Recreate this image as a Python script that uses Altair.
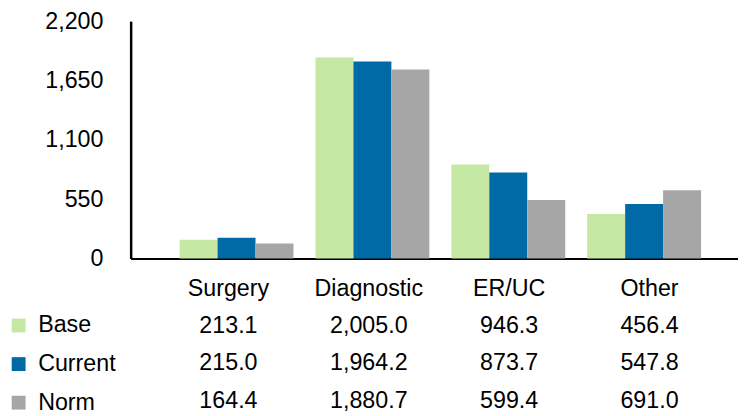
import altair as alt
import pandas as pd

categories = ["Surgery", "Diagnostic", "ER/UC", "Other"]
series = ["Base", "Current", "Norm"]
colors = ["#C5E8A5", "#006AA6", "#A6A6A6"]

# bar heights as drawn in the picture
bar_base = [174, 1862, 872, 413]
bar_current = [193, 1826, 798, 505]
bar_norm = [138, 1752, 541, 633]

# values printed in the table under the chart
table_base = [213.1, 2005.0, 946.3, 456.4]
table_current = [215.0, 1964.2, 873.7, 547.8]
table_norm = [164.4, 1880.7, 599.4, 691.0]

y_ticks = [0, 550, 1100, 1650, 2200]

FONT = "Liberation Sans"
FS = 23.5

bar_rows = []
for s, vals in zip(series, [bar_base, bar_current, bar_norm]):
    for c, v in zip(categories, vals):
        bar_rows.append({"category": c, "series": s, "value": v})
bars_df = pd.DataFrame(bar_rows)

tab_rows = [{"category": c, "row": "header", "text": c} for c in categories]
for s, vals in zip(series, [table_base, table_current, table_norm]):
    for c, v in zip(categories, vals):
        tab_rows.append({"category": c, "row": s, "text": f"{v:,.1f}"})
table_df = pd.DataFrame(tab_rows)

bars = alt.Chart(bars_df).mark_bar().encode(
    x=alt.X("category:N", sort=categories,
            scale=alt.Scale(paddingInner=0.1618, paddingOuter=0.316, align=0.57),
            axis=alt.Axis(labels=False, ticks=False, title=None, domainColor="black",
                          domainWidth=2, grid=False)),
    xOffset=alt.XOffset("series:N", sort=series,
                        scale=alt.Scale(paddingInner=0, paddingOuter=0)),
    y=alt.Y("value:Q", scale=alt.Scale(domain=[0, 2200], nice=False),
            axis=alt.Axis(values=y_ticks, format=",.0f", grid=False, ticks=False,
                          labelPadding=28, domainColor="black", domainWidth=2.5,
                          title=None, labelFontSize=FS, labelFont=FONT,
                          labelColor="black")),
    color=alt.Color("series:N", sort=series,
                    scale=alt.Scale(domain=series, range=colors),
                    legend=alt.Legend(orient="none", legendX=-125, legendY=296,
                                      title=None, symbolType="square", symbolSize=196,
                                      symbolStrokeWidth=0, labelFontSize=FS,
                                      labelFont=FONT, labelColor="black",
                                      rowPadding=14, labelOffset=8, padding=0,
                                      direction="vertical")),
)

table = alt.Chart(table_df).mark_text(
    fontSize=FS, font=FONT, color="black", baseline="alphabetic", align="center"
).encode(
    x=alt.X("category:N", sort=categories,
            scale=alt.Scale(type="point", padding=0.6635, align=0.525),
            axis=None),
    y=alt.Y("row:N", sort=["header"] + series,
            scale=alt.Scale(type="point", range=[277.7, 391], padding=0),
            axis=None),
    text="text:N",
)

chart = alt.layer(bars, table).resolve_scale(
    x="independent", y="independent"
).properties(
    width=614, height=240,
    autosize=alt.AutoSizeParams(type="none"),
    padding={"left": 124, "top": 11, "right": 0, "bottom": 157},
    background="white",
).configure_view(stroke=None)

chart.save("out.html", embed_options={"renderer": "svg", "actions": False})
